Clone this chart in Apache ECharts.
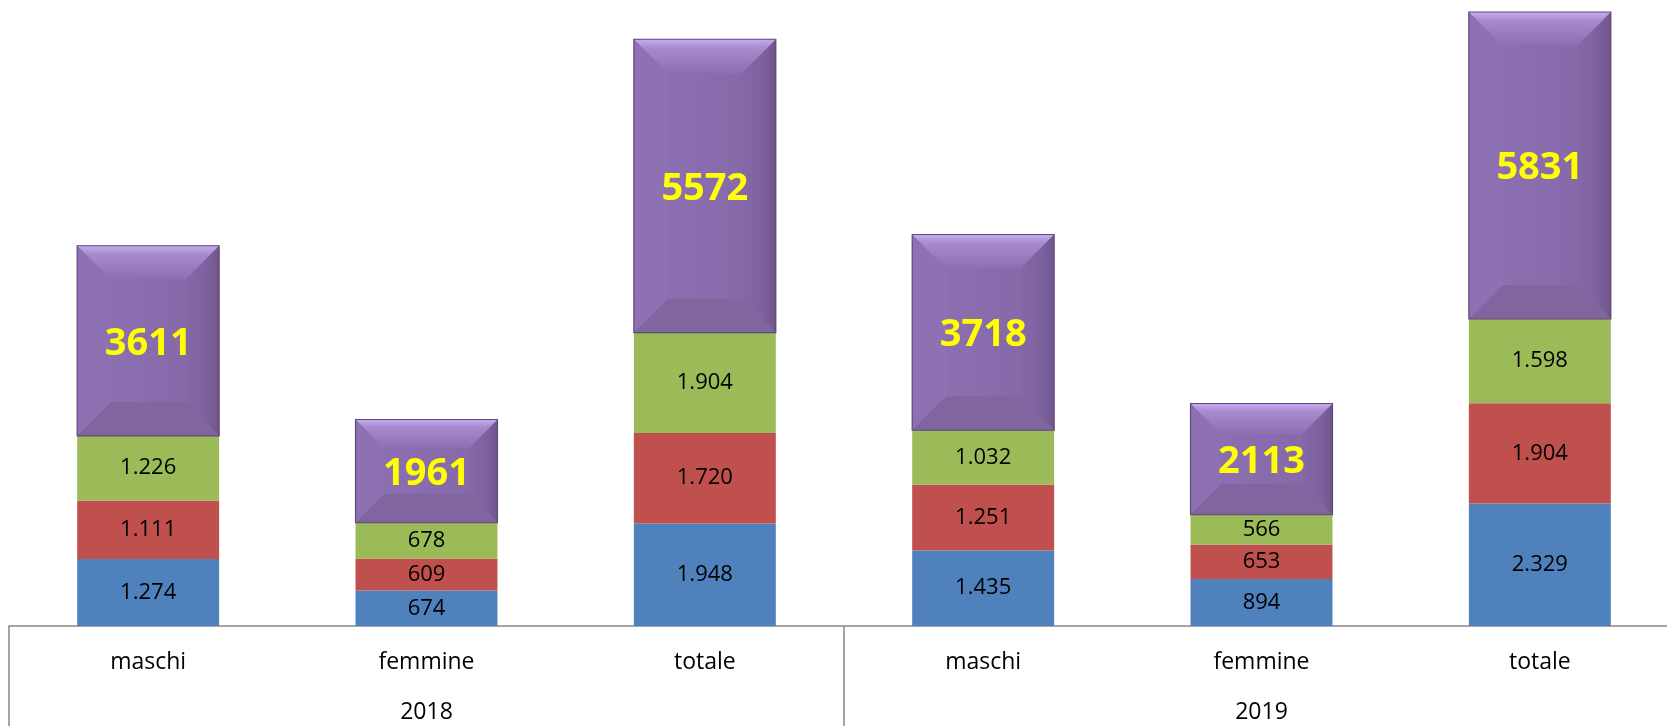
<!DOCTYPE html>
<html>
<head>
<meta charset="utf-8">
<script src="https://cdn.jsdelivr.net/npm/echarts@6/dist/echarts.min.js"></script>
<style>
html, body { margin: 0; padding: 0; background: #fff; overflow: hidden; }
/* the category box runs past the right edge of the picture */
#chart { width: 1680px; height: 726px; }
</style>
</head>
<body>
<div id="chart"></div>
<script>
const categories = ["maschi", "femmine", "totale", "maschi", "femmine", "totale"];
const years = ["2018", "2019"];
const blueValues = [1274, 674, 1948, 1435, 894, 2329];
const redValues = [1111, 609, 1720, 1251, 653, 1904];
const greenValues = [1226, 678, 1904, 1032, 566, 1598];
const totalValues = [3611, 1961, 5572, 3718, 2113, 5831];

const axisGrey = "#868686";
const font = "'Open Sans', 'Noto Sans', sans-serif";

// 1274 -> "1.274"
function fmt(v) {
  return String(v).replace(/\B(?=(\d{3})+(?!\d))/g, ".");
}

// purple box sits on top of the three stacked segments
const boxData = totalValues.map((t, i) => [i, blueValues[i] + redValues[i] + greenValues[i], t]);

function renderBox(params, api) {
  const i = api.value(0);
  const base = api.value(1);
  const total = api.value(2);
  const bottom = api.coord([i, base]);
  const top = api.coord([i, base + total]);
  const w = api.size([1, 0])[0] * 0.51;
  const x0 = bottom[0] - w / 2, x1 = bottom[0] + w / 2;
  const y0 = top[1], y1 = bottom[1];
  const d = Math.min(34, (y1 - y0) * 0.28);
  return {
    type: "group",
    children: [
      {
        type: "rect",
        shape: { x: x0, y: y0, width: w, height: y1 - y0 },
        style: { fill: "#8A6DAD" }
      },
      {
        type: "polygon",
        shape: { points: [[x0, y0], [x0 + d, y0 + d], [x0 + d, y1 - d], [x0, y1]] },
        style: { fill: "#8E71B3" }
      },
      {
        type: "polygon",
        shape: { points: [[x1, y0], [x1 - d, y0 + d], [x1 - d, y1 - d], [x1, y1]] },
        style: {
          fill: new echarts.graphic.LinearGradient(0, 0, 1, 0, [
            { offset: 0, color: "#8468A7" },
            { offset: 0.6, color: "#7E62A0" },
            { offset: 1, color: "#70558C" }
          ])
        }
      },
      {
        type: "polygon",
        shape: { points: [[x0, y1], [x1, y1], [x1 - d, y1 - d], [x0 + d, y1 - d]] },
        style: { fill: "#80659F" }
      },
      {
        type: "polygon",
        shape: { points: [[x0, y0], [x1, y0], [x1 - d, y0 + d], [x0 + d, y0 + d]] },
        style: {
          fill: new echarts.graphic.LinearGradient(0, 0, 0, 1, [
            { offset: 0, color: "#C8ACEE" },
            { offset: 0.25, color: "#A68BCE" },
            { offset: 1, color: "#8C6FB0" }
          ])
        }
      },
      {
        type: "rect",
        shape: { x: x0 + d, y: y0 + d, width: w - 2 * d, height: y1 - y0 - 2 * d },
        style: {
          fill: new echarts.graphic.LinearGradient(0, 0, 1, 0, [
            { offset: 0, color: "#8C6FB1" },
            { offset: 1, color: "#8569A9" }
          ])
        }
      },
      {
        type: "rect",
        shape: { x: x0, y: y0, width: w, height: y1 - y0 },
        style: { fill: "none", stroke: "#5E4A7A", lineWidth: 1.2 }
      },
      {
        type: "text",
        style: {
          text: String(total),
          x: (x0 + x1) / 2,
          y: (y0 + y1) / 2 + 3,
          align: "center",
          verticalAlign: "middle",
          fill: "#FFFF00",
          fontSize: 38,
          fontWeight: "bold",
          fontFamily: font
        }
      }
    ]
  };
}

function segment(name, color, values) {
  return {
    name: name,
    type: "bar",
    stack: "a",
    barWidth: "51%",
    data: values,
    itemStyle: { color: color },
    label: {
      show: true,
      position: "inside",
      color: "#000",
      fontSize: 22,
      fontFamily: font,
      formatter: (p) => fmt(p.value)
    }
  };
}

const chart = echarts.init(document.getElementById("chart"));
chart.setOption({
  animation: false,
  grid: { left: 9, right: 1, top: 10, bottom: 100, containLabel: false },
  xAxis: [
    {
      type: "category",
      data: categories,
      position: "bottom",
      axisLine: { lineStyle: { color: axisGrey, width: 1.5 } },
      axisTick: { show: false },
      axisLabel: { interval: 0, margin: 25, color: "#000", fontSize: 23, fontFamily: font }
    },
    {
      type: "category",
      data: years,
      position: "bottom",
      axisLine: { show: false },
      axisTick: { show: true, interval: 0, length: 100, lineStyle: { color: axisGrey, width: 1.5 } },
      axisLabel: { interval: 0, margin: 75, color: "#000", fontSize: 23, fontFamily: font }
    }
  ],
  yAxis: { type: "value", min: 0, max: 11700, show: false, splitLine: { show: false } },
  series: [
    segment("blu", "#4F81BD", blueValues),
    segment("rosso", "#C0504D", redValues),
    segment("verde", "#9BBB59", greenValues),
    {
      type: "custom",
      xAxisIndex: 0,
      renderItem: renderBox,
      encode: { x: 0, y: [1, 2] },
      data: boxData,
      clip: false,
      z: 3
    }
  ]
});
window.addEventListener("resize", chart.resize);
</script>
</body>
</html>
